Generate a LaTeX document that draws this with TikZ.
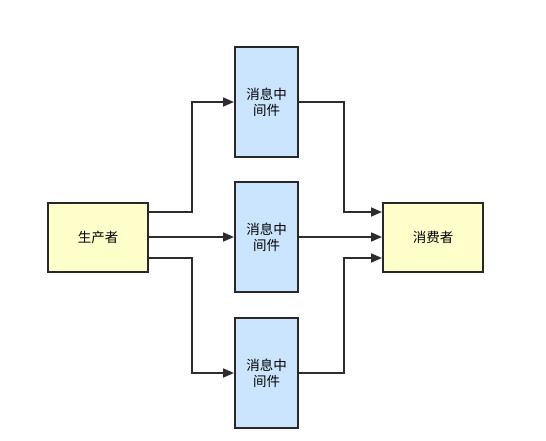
\documentclass[tikz,border=0pt]{standalone}
\usepackage{fontspec}
\setmainfont{Noto Sans CJK SC}
\usepackage{xcolor}
\usepackage{tikz}
\usetikzlibrary{arrows.meta,positioning,calc}
\definecolor{pyellow}{RGB}{255,255,204}
\definecolor{pblue}{RGB}{204,229,255}
\definecolor{pedge}{RGB}{40,40,40}
\definecolor{pline}{RGB}{45,45,45}

\begin{document}
\begin{tikzpicture}[x=1pt,y=-1pt,font=\fontsize{13.5}{16}\selectfont,
  endbox/.style={draw=pedge,line width=2pt,fill=pyellow,minimum width=100pt,minimum height=69pt,inner sep=0pt},
  mqbox/.style={draw=pedge,line width=2pt,fill=pblue,minimum width=63pt,minimum height=110pt,inner sep=0pt,align=center},
  flow/.style={draw=pline,line width=1.7pt,-{Triangle[length=11pt,width=9pt]}}]
\useasboundingbox (0,0) rectangle (546,441);
\fill[white] (0,0) rectangle (546,441);
\node[endbox] (prod) at (98,237) {生产者};
\node[endbox] (cons) at (433,237) {消费者};
\foreach \y [count=\i] in {102,237,373}
  \node[mqbox] (mq\i) at (266.5,\y) {消息中\\间件};
% producer to middleware
\draw[flow] ([yshift=25pt]prod.east) -- ++(43,0) |- (mq1.west);
\draw[flow] (prod.east) -- (mq2.west);
\draw[flow] ([yshift=-21pt]prod.east) -- ++(43,0) |- (mq3.west);
% middleware to consumer
\draw[flow] (mq1.east) -- ++(45,0) |- ([yshift=25pt]cons.west);
\draw[flow] (mq2.east) -- (cons.west);
\draw[flow] (mq3.east) -- ++(45,0) |- ([yshift=-21pt]cons.west);
\end{tikzpicture}
\end{document}
